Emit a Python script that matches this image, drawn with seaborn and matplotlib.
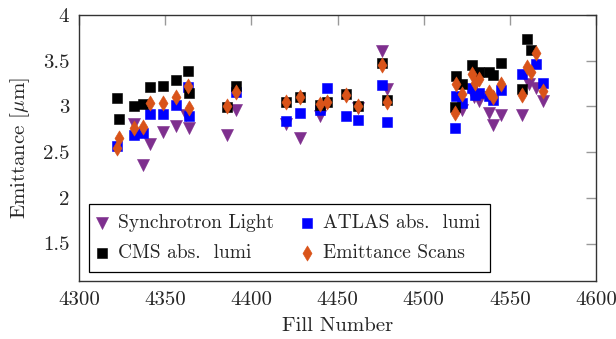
import matplotlib
matplotlib.use("Agg")
import matplotlib.pyplot as plt
import seaborn as sns
import pandas as pd
from matplotlib.ticker import FixedLocator, FuncFormatter

# ---- data ----
sl_fill = [4332, 4337, 4341, 4349, 4356, 4362, 4364, 4386, 4391, 4420, 4428, 4440,
           4462, 4476, 4479, 4522, 4529, 4532, 4538, 4540, 4545, 4557, 4561, 4565, 4569]
sl_val = [2.81, 2.36, 2.59, 2.72, 2.79, 2.91, 2.76, 2.69, 2.96, 2.81, 2.65, 2.89,
          2.98, 3.61, 3.19, 2.96, 3.10, 3.06, 2.93, 2.80, 2.91, 2.91, 3.25, 3.20, 3.06]

cms_fill = [4322, 4323, 4332, 4337, 4341, 4349, 4356, 4363, 4364, 4386, 4391, 4420,
            4428, 4440, 4444, 4455, 4462, 4476, 4479, 4518, 4519, 4522, 4528, 4532,
            4538, 4540, 4545, 4557, 4560, 4562]
cms_val = [3.09, 2.86, 3.00, 3.03, 3.21, 3.22, 3.29, 3.39, 3.15, 2.99, 3.22, 3.05,
           3.10, 3.02, 3.05, 3.14, 3.00, 3.47, 3.07, 2.99, 3.33, 3.24, 3.45, 3.38,
           3.38, 3.34, 3.47, 3.19, 3.74, 3.62]

atlas_fill = [4322, 4332, 4337, 4341, 4349, 4356, 4363, 4364, 4391, 4420, 4428, 4440,
              4444, 4455, 4462, 4476, 4479, 4518, 4519, 4522, 4528, 4530, 4532, 4538,
              4540, 4545, 4557, 4565, 4569]
atlas_val = [2.57, 2.69, 2.71, 2.92, 2.92, 3.02, 3.21, 2.89, 3.16, 2.84, 2.93, 2.96,
             3.20, 2.89, 2.85, 3.23, 2.83, 2.76, 3.11, 3.04, 3.20, 3.12, 3.15, 3.11,
             3.07, 3.18, 3.36, 3.46, 3.26]

es_fill = [4322, 4323, 4332, 4337, 4341, 4349, 4356, 4363, 4364, 4386, 4391, 4420,
           4428, 4440, 4444, 4455, 4462, 4476, 4479, 4518, 4519, 4522, 4528, 4530,
           4532, 4538, 4540, 4545, 4557, 4560, 4562, 4565, 4569]
es_val = [2.55, 2.65, 2.76, 2.78, 3.04, 3.04, 3.10, 3.22, 2.98, 3.00, 3.16, 3.05,
          3.10, 3.03, 3.05, 3.12, 3.00, 3.45, 3.05, 2.93, 3.24, 3.14, 3.36, 3.26,
          3.30, 3.16, 3.10, 3.25, 3.12, 3.43, 3.38, 3.58, 3.17]

series_names = ["Synchrotron Light", "ATLAS abs.  lumi", "CMS abs.  lumi", "Emittance Scans"]
x_ticks = [4300, 4350, 4400, 4450, 4500, 4550, 4600]
y_ticks = [1.5, 2, 2.5, 3, 3.5, 4]

# ---- style ----
sns.set_theme(style="white")
plt.rcParams["font.family"] = ["cmr10", "DejaVu Serif"]
plt.rcParams["mathtext.fontset"] = "cm"
plt.rcParams["axes.formatter.use_mathtext"] = True
plt.rcParams["axes.unicode_minus"] = False

fig = plt.figure(figsize=(6.16, 3.39), dpi=100)
ax = fig.add_axes([79 / 616, 1 - 281 / 339, 517 / 616, 266 / 339])

frames = {
    series_names[0]: (sl_fill, sl_val, "v", "#7E2F8E", 75),
    series_names[1]: (atlas_fill, atlas_val, "s", "#0000FF", 55),
    series_names[2]: (cms_fill, cms_val, "s", "#000000", 55),
    series_names[3]: (es_fill, es_val, "d", "#D95319", 60),
}

for name, (fx, fy, mk, col, s) in frames.items():
    df = pd.DataFrame({"Fill": fx, "Emittance": fy})
    sns.scatterplot(data=df, x="Fill", y="Emittance", ax=ax, marker=mk, color=col,
                    s=s, edgecolor=col, linewidth=0.4, label=name, zorder=3)

ax.set_xlim(4300, 4600)
ax.set_ylim(1.09, 4)
ax.xaxis.set_major_locator(FixedLocator(x_ticks))
ax.yaxis.set_major_locator(FixedLocator(y_ticks))
ax.yaxis.set_major_formatter(FuncFormatter(lambda v, p: f"{v:g}"))
ax.xaxis.set_major_formatter(FuncFormatter(lambda v, p: f"{v:g}"))

ax.tick_params(axis="both", which="major", direction="in", length=7, width=1.0,
               color="#999999", labelsize=15, top=True, right=True, pad=7)
for sp in ax.spines.values():
    sp.set_color("#333333")
    sp.set_linewidth(1.0)

ax.set_xlabel("Fill Number", fontsize=15, labelpad=6)
ax.set_ylabel(r"Emittance [$\mu$m]", fontsize=15, labelpad=8)

h, l = ax.get_legend_handles_labels()
order = [l.index(series_names[0]), l.index(series_names[2]),
         l.index(series_names[1]), l.index(series_names[3])]
leg = ax.legend([h[i] for i in order], [l[i] for i in order], ncol=2,
                loc="lower left", bbox_to_anchor=(0.019, 0.034), fontsize=14,
                frameon=True, fancybox=False, framealpha=1, edgecolor="#000000",
                handlelength=0.4, handletextpad=0.6, columnspacing=1.5,
                borderpad=0.5, labelspacing=0.65, borderaxespad=0)
leg.get_frame().set_linewidth(0.9)

fig.savefig("out.png", dpi=100)
